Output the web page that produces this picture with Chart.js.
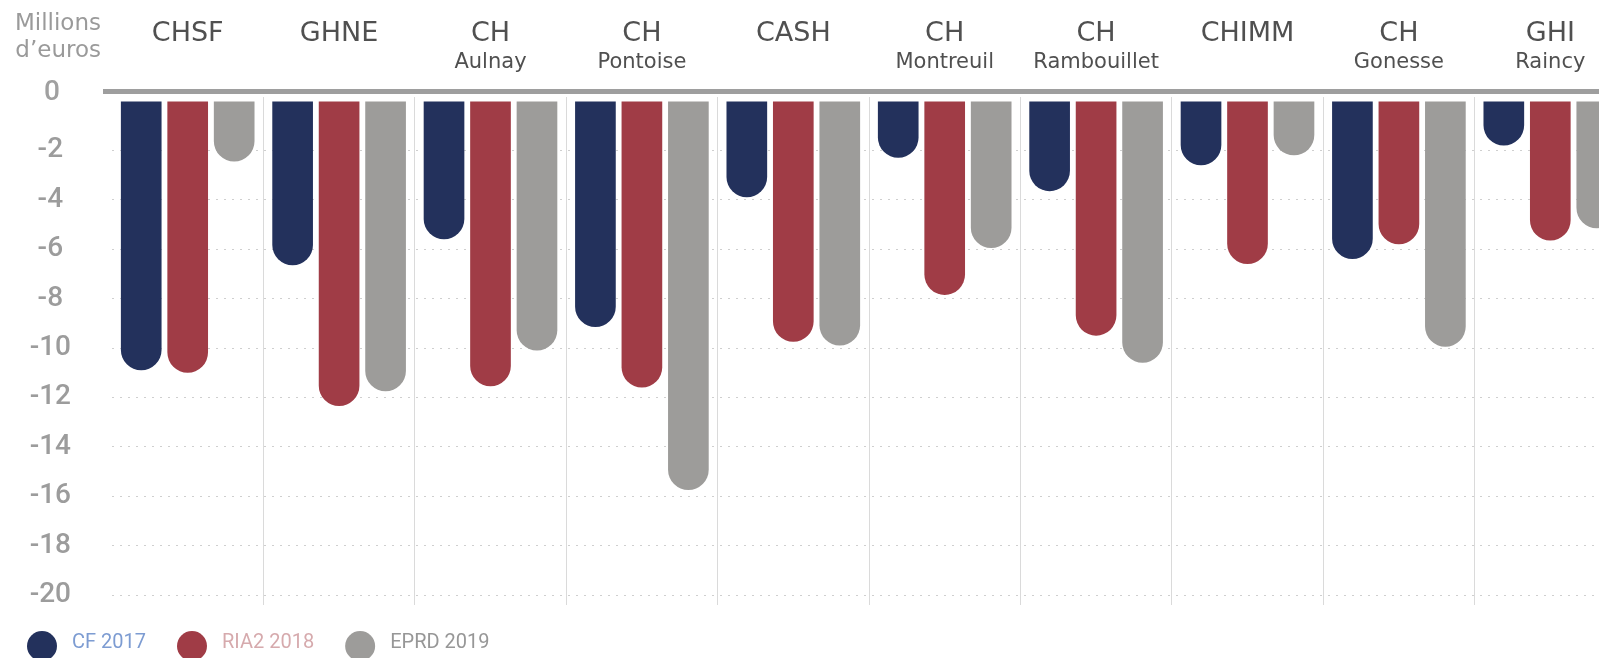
<!DOCTYPE html>
<html lang="fr">
<head>
<meta charset="utf-8">
<script src="https://cdn.jsdelivr.net/npm/chart.js@4.4.0/dist/chart.umd.min.js"></script>
<style>
  html, body { margin: 0; padding: 0; background: #fff; overflow: hidden; }
  #wrap { position: relative; width: 1626px; height: 658px; }
</style>
</head>
<body>
<div id="wrap"><canvas id="deficitChart"></canvas></div>
<script>
// etablissements (nom principal + ville en dessous)
const etablissements = ['CHSF', 'GHNE', 'CH', 'CH', 'CASH', 'CH', 'CH', 'CHIMM', 'CH', 'GHI'];
const villes = ['', '', 'Aulnay', 'Pontoise', '', 'Montreuil', 'Rambouillet', '', 'Gonesse', 'Raincy'];

// resultats en millions d'euros
const cf2017 = [-10.9, -6.65, -5.6, -9.15, -3.9, -2.3, -3.65, -2.6, -6.4, -1.8];
const ria2018 = [-11.0, -12.35, -11.55, -11.6, -9.75, -7.85, -9.5, -6.6, -5.8, -5.65];
const eprd2019 = [-2.45, -11.75, -10.1, -15.75, -9.9, -5.95, -10.6, -2.2, -9.95, -5.15];

const seriesNames = ['CF 2017', 'RIA2 2018', 'EPRD 2019'];
const yMin = -20;
const yMax = 0;
const yStep = 2;

const barColors = ['#23315c', '#a03c46', '#9d9c9a'];
const legendTextColors = ['#7d9cd2', '#d6aaad', '#979797'];
const tickFont = { family: 'Roboto', size: 28, weight: '500' };
const sepColor = ctx => ctx.index === 0 ? 'rgba(0,0,0,0)' : '#dadada';

const extras = {
  id: 'extras',
  afterDraw(chart) {
    const ctx = chart.ctx;
    const area = chart.chartArea;
    const y = chart.scales.y;
    ctx.save();

    // trait gris sous les en-tetes
    ctx.fillStyle = '#9e9e9e';
    ctx.fillRect(103, area.top - 12, chart.width - 103, 5);

    // le 0 est remonte au niveau du trait
    ctx.font = '500 28px Roboto';
    ctx.fillStyle = '#a0a0a0';
    ctx.textAlign = 'center';
    ctx.textBaseline = 'middle';
    ctx.fillText('0', 52, y.getPixelForValue(0) - 8);

    // unite
    ctx.font = '23px "DejaVu Sans"';
    ctx.fillStyle = '#9a9a9a';
    ctx.textAlign = 'right';
    ctx.fillText('Millions', 101, 24);
    ctx.fillText('d\u2019euros', 101, 51);

    // legende
    let x = 27;
    const ly = area.bottom + 51;
    ctx.font = '20px Roboto';
    ctx.textAlign = 'left';
    chart.data.datasets.forEach((ds, i) => {
      ctx.fillStyle = ds.backgroundColor;
      ctx.beginPath();
      ctx.arc(x + 15, ly, 15, 0, Math.PI * 2);
      ctx.fill();
      ctx.fillStyle = legendTextColors[i];
      ctx.fillText(ds.label, x + 45, ly - 3);
      x += 45 + ctx.measureText(ds.label).width + 31;
    });
    ctx.restore();
  }
};

new Chart(document.getElementById('deficitChart'), {
  type: 'bar',
  data: {
    labels: etablissements,
    datasets: [
      { label: seriesNames[0], data: cf2017, backgroundColor: barColors[0] },
      { label: seriesNames[1], data: ria2018, backgroundColor: barColors[1] },
      { label: seriesNames[2], data: eprd2019, backgroundColor: barColors[2] }
    ]
  },
  options: {
    responsive: true,
    maintainAspectRatio: false,
    animation: false,
    layout: { padding: { left: 0, right: 0, top: 0, bottom: 53 } },
    datasets: {
      bar: {
        categoryPercentage: 0.921,
        barPercentage: 0.875,
        borderRadius: 21,
        borderSkipped: 'start'
      }
    },
    plugins: {
      legend: { display: false },
      tooltip: { enabled: false }
    },
    scales: {
      x: {
        position: 'top',
        weight: 1,
        offset: true,
        afterFit(scale) { scale.height = 50; },
        grid: { offset: true, drawTicks: false, lineWidth: 1, color: sepColor },
        border: { display: false },
        ticks: {
          autoSkip: false,
          maxRotation: 0,
          padding: 0,
          color: '#505050',
          font: { family: 'DejaVu Sans', size: 27 }
        }
      },
      x2: {
        type: 'category',
        labels: villes,
        position: 'top',
        weight: 0,
        offset: true,
        afterFit(scale) { scale.height = 51; },
        grid: { offset: true, drawOnChartArea: false, drawTicks: true, tickLength: 4, color: sepColor },
        border: { display: false },
        ticks: {
          autoSkip: false,
          maxRotation: 0,
          padding: 22,
          color: '#505050',
          font: { family: 'DejaVu Sans', size: 21 }
        }
      },
      xBas: {
        type: 'category',
        labels: etablissements,
        position: 'bottom',
        offset: true,
        afterFit(scale) { scale.height = 10; },
        grid: { offset: true, drawOnChartArea: false, drawTicks: true, tickLength: 10, color: sepColor },
        border: { display: false },
        ticks: { display: false }
      },
      y: {
        min: yMin,
        max: yMax,
        afterFit(scale) { scale.width = 112; },
        grid: {
          drawTicks: false,
          lineWidth: 1,
          color: ctx => (ctx.tick && ctx.tick.value === 0) ? 'rgba(0,0,0,0)' : '#cfcfcf'
        },
        border: { display: false, dash: [2, 6] },
        ticks: {
          stepSize: yStep,
          crossAlign: 'center',
          padding: 41,
          color: '#9c9c9c',
          font: tickFont,
          callback: v => v === 0 ? '' : String(v)
        }
      }
    }
  },
  plugins: [extras]
});
</script>
</body>
</html>
